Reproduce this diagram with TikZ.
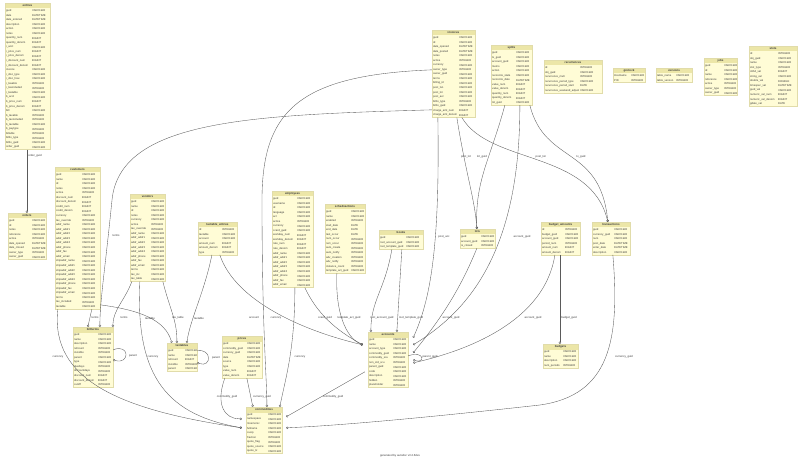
\documentclass[tikz,border=0pt]{standalone}
\usepackage{fontspec}
\setmainfont{Liberation Sans}
\usetikzlibrary{arrows.meta,calc,fit}
\catcode`\_=12
\definecolor{hdrfill}{RGB}{236,230,168}
\definecolor{rowfill}{RGB}{255,252,214}
\definecolor{tblline}{RGB}{225,220,170}
\definecolor{txt}{RGB}{60,60,60}
\definecolor{edgec}{RGB}{90,90,90}
\tikzset{
  hdrtext/.style={font=\fontsize{2.9}{3}\selectfont\bfseries,text=txt,inner sep=0},
  celltext/.style={font=\fontsize{2.7}{3}\selectfont,text=txt,inner sep=0,anchor=west},
  lab/.style={font=\fontsize{2.8}{3}\selectfont,text=txt,inner sep=0.3pt},
  conn/.style={draw=edgec,line width=0.35pt,-{Circle[open,length=2.3pt,width=2.3pt]}},
}
\newcounter{lb}
\newcommand{\lbl}[3]{\stepcounter{lb}\node[lab] (lab\thelb) at (#1,#2) {#3};}
\newcommand{\mktable}[7]{%
 \fill[hdrfill] (#2,#3) rectangle (#2+#4,#3+5.5);
 \node[hdrtext] (#1title) at (#2+#4/2,#3+2.75) {#6};
 \foreach \c/\t [count=\i] in {#7} {
   \pgfmathsetmacro\yy{#3+5.5+(\i-1)*4.55}
   \fill[rowfill] (#2,\yy) rectangle (#2+#4,\yy+4.55);
   \node[celltext] (#1c\i) at (#2+1,\yy+2.3) {\c};
   \node[celltext] (#1t\i) at (#2+#5,\yy+2.3) {\t};
   \xdef\nrows{\i}
 }
 \pgfmathsetmacro\yb{#3+5.5+\nrows*4.55}
 \coordinate (#1nw) at (#2,#3); \coordinate (#1se) at (#2+#4,\yb);
 \node[fit=(#1nw)(#1se),inner sep=0,draw=tblline,line width=0.3pt] (#1) {};
}
\begin{document}
\begin{tikzpicture}[x=1pt,y=-1pt]
\fill[white] (0,0) rectangle (800,462);
\useasboundingbox (0,0) rectangle (800,462);

\mktable{entries}{5}{3}{45}{27}{entries}{guid/VARCHAR,date/DATETIME,date_entered/DATETIME,description/VARCHAR,action/VARCHAR,notes/VARCHAR,quantity_num/BIGINT,quantity_denom/BIGINT,i_acct/VARCHAR,i_price_num/BIGINT,i_price_denom/BIGINT,i_discount_num/BIGINT,i_discount_denom/BIGINT,invoice/VARCHAR,i_disc_type/VARCHAR,i_disc_how/VARCHAR,i_taxable/INTEGER,i_taxincluded/INTEGER,i_taxtable/VARCHAR,b_acct/VARCHAR,b_price_num/BIGINT,b_price_denom/BIGINT,bill/VARCHAR,b_taxable/INTEGER,b_taxincluded/INTEGER,b_taxtable/VARCHAR,b_paytype/INTEGER,billable/INTEGER,billto_type/INTEGER,billto_guid/VARCHAR,order_guid/VARCHAR}
\mktable{orders}{8}{213}{38}{24}{orders}{guid/VARCHAR,id/VARCHAR,notes/VARCHAR,reference/VARCHAR,active/INTEGER,date_opened/DATETIME,date_closed/DATETIME,owner_type/INTEGER,owner_guid/VARCHAR}
\mktable{customers}{55}{167}{45}{27}{customers}{guid/VARCHAR,name/VARCHAR,id/VARCHAR,notes/VARCHAR,active/INTEGER,discount_num/BIGINT,discount_denom/BIGINT,credit_num/BIGINT,credit_denom/BIGINT,currency/VARCHAR,tax_override/INTEGER,addr_name/VARCHAR,addr_addr1/VARCHAR,addr_addr2/VARCHAR,addr_addr3/VARCHAR,addr_addr4/VARCHAR,addr_phone/VARCHAR,addr_fax/VARCHAR,addr_email/VARCHAR,shipaddr_name/VARCHAR,shipaddr_addr1/VARCHAR,shipaddr_addr2/VARCHAR,shipaddr_addr3/VARCHAR,shipaddr_addr4/VARCHAR,shipaddr_phone/VARCHAR,shipaddr_fax/VARCHAR,shipaddr_email/VARCHAR,terms/VARCHAR,tax_included/INTEGER,taxtable/VARCHAR}
\mktable{vendors}{130}{194}{35}{21}{vendors}{guid/VARCHAR,name/VARCHAR,id/VARCHAR,notes/VARCHAR,currency/VARCHAR,active/INTEGER,tax_override/INTEGER,addr_name/VARCHAR,addr_addr1/VARCHAR,addr_addr2/VARCHAR,addr_addr3/VARCHAR,addr_addr4/VARCHAR,addr_phone/VARCHAR,addr_fax/VARCHAR,addr_email/VARCHAR,terms/VARCHAR,tax_inc/VARCHAR,tax_table/VARCHAR}
\mktable{taxtable_entries}{198}{222}{39}{24}{taxtable_entries}{id/INTEGER,taxtable/VARCHAR,account/VARCHAR,amount_num/BIGINT,amount_denom/BIGINT,type/INTEGER}
\mktable{employees}{272}{191}{41}{25}{employees}{guid/VARCHAR,username/VARCHAR,id/VARCHAR,language/VARCHAR,acl/VARCHAR,active/INTEGER,currency/VARCHAR,ccard_guid/VARCHAR,workday_num/BIGINT,workday_denom/BIGINT,rate_num/BIGINT,rate_denom/BIGINT,addr_name/VARCHAR,addr_addr1/VARCHAR,addr_addr2/VARCHAR,addr_addr3/VARCHAR,addr_addr4/VARCHAR,addr_phone/VARCHAR,addr_fax/VARCHAR,addr_email/VARCHAR}
\mktable{schedxactions}{325}{204}{40}{26}{schedxactions}{guid/VARCHAR,name/VARCHAR,enabled/INTEGER,start_date/DATE,end_date/DATE,last_occur/DATE,num_occur/INTEGER,rem_occur/INTEGER,auto_create/INTEGER,auto_notify/INTEGER,adv_creation/INTEGER,adv_notify/INTEGER,instance_count/INTEGER,template_act_guid/VARCHAR}
\mktable{books}{379}{230}{44}{27}{books}{guid/VARCHAR,root_account_guid/VARCHAR,root_template_guid/VARCHAR}
\mktable{lots}{460}{229}{35}{21}{lots}{guid/VARCHAR,account_guid/VARCHAR,is_closed/INTEGER}
\mktable{budget_amounts}{541}{222}{39}{24}{budget_amounts}{id/INTEGER,budget_guid/VARCHAR,account_guid/VARCHAR,period_num/INTEGER,amount_num/BIGINT,amount_denom/BIGINT}
\mktable{transactions}{592}{222}{38}{22}{transactions}{guid/VARCHAR,currency_guid/VARCHAR,num/VARCHAR,post_date/DATETIME,enter_date/DATETIME,description/VARCHAR}
\mktable{invoices}{432}{30}{43}{27}{invoices}{guid/VARCHAR,id/VARCHAR,date_opened/DATETIME,date_posted/DATETIME,notes/VARCHAR,active/INTEGER,currency/VARCHAR,owner_type/INTEGER,owner_guid/VARCHAR,terms/VARCHAR,billing_id/VARCHAR,post_txn/VARCHAR,post_lot/VARCHAR,post_acc/VARCHAR,billto_type/INTEGER,billto_guid/VARCHAR,charge_amt_num/BIGINT,charge_amt_denom/BIGINT}
\mktable{splits}{491}{45}{41}{25}{splits}{guid/VARCHAR,tx_guid/VARCHAR,account_guid/VARCHAR,memo/VARCHAR,action/VARCHAR,reconcile_state/VARCHAR,reconcile_date/DATETIME,value_num/BIGINT,value_denom/BIGINT,quantity_num/BIGINT,quantity_denom/BIGINT,lot_guid/VARCHAR}
\mktable{recurrences}{544}{60}{58}{36}{recurrences}{id/INTEGER,obj_guid/VARCHAR,recurrence_mult/INTEGER,recurrence_period_type/VARCHAR,recurrence_period_start/DATE,recurrence_weekend_adjust/VARCHAR}
\mktable{gnclock}{613}{68}{32}{18}{gnclock}{Hostname/VARCHAR,PID/INTEGER}
\mktable{versions}{656}{68}{36}{20}{versions}{table_name/VARCHAR,table_version/INTEGER}
\mktable{jobs}{704}{58}{33}{20}{jobs}{guid/VARCHAR,id/VARCHAR,name/VARCHAR,reference/VARCHAR,active/INTEGER,owner_type/INTEGER,owner_guid/VARCHAR}
\mktable{slots}{749}{46}{48}{29}{slots}{id/INTEGER,obj_guid/VARCHAR,name/VARCHAR,slot_type/INTEGER,int64_val/BIGINT,string_val/VARCHAR,double_val/DOUBLE,timespec_val/DATETIME,guid_val/VARCHAR,numeric_val_num/BIGINT,numeric_val_denom/BIGINT,gdate_val/DATE}
\mktable{billterms}{73}{327}{40}{25}{billterms}{guid/VARCHAR,name/VARCHAR,description/VARCHAR,refcount/INTEGER,invisible/INTEGER,parent/VARCHAR,type/VARCHAR,duedays/INTEGER,discountdays/INTEGER,discount_num/BIGINT,discount_denom/BIGINT,cutoff/INTEGER}
\mktable{taxtables}{167}{343}{30}{18}{taxtables}{guid/VARCHAR,name/VARCHAR,refcount/BIGINT,invisible/INTEGER,parent/VARCHAR}
\mktable{prices}{222}{336}{40}{25}{prices}{guid/VARCHAR,commodity_guid/VARCHAR,currency_guid/VARCHAR,date/DATETIME,source/VARCHAR,type/VARCHAR,value_num/BIGINT,value_denom/BIGINT}
\mktable{accounts}{368}{332}{40}{25}{accounts}{guid/VARCHAR,name/VARCHAR,account_type/VARCHAR,commodity_guid/VARCHAR,commodity_scu/INTEGER,non_std_scu/INTEGER,parent_guid/VARCHAR,code/VARCHAR,description/VARCHAR,hidden/INTEGER,placeholder/INTEGER}
\mktable{budgets}{543}{344}{35}{20}{budgets}{guid/VARCHAR,name/VARCHAR,description/VARCHAR,num_periods/INTEGER}
\mktable{commodities}{246}{407}{36}{22}{commodities}{guid/VARCHAR,namespace/VARCHAR,mnemonic/VARCHAR,fullname/VARCHAR,cusip/VARCHAR,fraction/INTEGER,quote_flag/INTEGER,quote_source/VARCHAR,quote_tz/VARCHAR}

% connectors
\draw[conn] ($(entries.south west)+(22,0)$) -- ($(orders.north west)+(19,0)$);
\draw[conn] ($(customers.south west)+(37,0)$) -- ($(billterms.north west)+(15,0)$);
\draw[conn] ($(invoices.north west)+(0,80)$) .. controls (250,115) and (120,120) .. (112,200) .. controls (105,270) and (100,300) .. ($(billterms.north west)+(27,0)$);
\draw[conn] ($(vendors.south west)+(2,0)$) .. controls (125,300) and (113,310) .. ($(billterms.north west)+(40,0)$);
\draw[conn] ($(billterms.north east)+(0,23)$) .. controls (130,343) and (130,365) .. ($(billterms.north east)+(0,33)$);
\draw[conn] ($(customers.north east)+(0,138)$) .. controls (140,310) and (165,320) .. ($(taxtables.north west)+(5,0)$);
\draw[conn] ($(vendors.south west)+(33,0)$) .. controls (170,310) and (177,320) .. ($(taxtables.north west)+(10,0)$);
\draw[conn] ($(taxtable_entries.south west)+(14,0)$) .. controls (205,290) and (190,320) .. ($(taxtables.north west)+(20,0)$);
\draw[conn] ($(taxtables.north east)+(0,8)$) .. controls (212,348) and (212,368) .. ($(taxtables.north east)+(0,20)$);
\draw[conn] ($(taxtable_entries.south west)+(22,0)$) .. controls (235,300) and (300,330) .. ($(accounts.north west)+(-5,13)$);
\draw[conn] ($(prices.south west)+(3,0)$) .. controls (215,405) and (225,419) .. ($(commodities.north west)+(-4,12)$);
\draw[conn] ($(prices.south west)+(25,0)$) -- ($(commodities.north west)+(7,0)$);
\draw[conn] ($(customers.south west)+(3,0)$) .. controls (50,380) and (120,410) .. ($(commodities.north west)+(-4,21)$);
\draw[conn] ($(vendors.south west)+(10,0)$) .. controls (135,380) and (170,415) .. ($(commodities.north west)+(-4,21)$);
\draw[conn] ($(invoices.north west)+(0,40)$) .. controls (300,75) and (262,110) .. (262,200) .. controls (262,330) and (267,380) .. ($(commodities.north west)+(21,0)$);
\draw[conn] ($(employees.south west)+(23,0)$) .. controls (295,350) and (285,380) .. ($(commodities.north west)+(34,0)$);
\draw[conn] ($(employees.south west)+(33,0)$) .. controls (320,320) and (345,335) .. ($(accounts.north west)+(-5,13)$);
\draw[conn] ($(schedxactions.south west)+(12,0)$) .. controls (335,320) and (350,340) .. ($(accounts.north west)+(-5,13)$);
\draw[conn] ($(books.south west)+(13,0)$) .. controls (385,290) and (371,300) .. ($(accounts.north west)+(3,0)$);
\draw[conn] ($(books.south west)+(23,0)$) -- ($(accounts.north west)+(29,0)$);
\draw[conn] ($(accounts.north west)+(-3,40)$) -- ($(commodities.north east)+(4,10)$);
\draw[conn] ($(transactions.south west)+(21,0)$) .. controls (620,340) and (610,395) .. (540,405) .. controls (450,415) and (350,425) .. ($(commodities.north east)+(4,21)$);
\draw[conn] ($(invoices.south west)+(6,0)$) .. controls (440,250) and (430,300) .. ($(accounts.north east)+(5,6)$);
\draw[conn] ($(splits.south west)+(29,0)$) .. controls (520,250) and (470,310) .. ($(accounts.north east)+(5,13)$);
\draw[conn] ($(lots.south west)+(17,0)$) .. controls (460,290) and (440,320) .. ($(accounts.north east)+(5,21)$);
\draw[conn] ($(budget_amounts.south west)+(14,0)$) .. controls (545,320) and (470,350) .. ($(accounts.north east)+(5,31)$);
\draw[conn] ($(accounts.north east)+(0,24)$) .. controls (425,350) and (425,364) .. ($(accounts.north east)+(5,28)$);
\draw[conn] ($(invoices.south west)+(25,0)$) .. controls (465,170) and (475,200) .. ($(lots.north west)+(17,0)$);
\draw[conn] ($(splits.south west)+(14,0)$) .. controls (490,160) and (475,180) .. ($(lots.north west)+(17,0)$);
\draw[conn] ($(invoices.south west)+(30,0)$) .. controls (490,165) and (590,150) .. ($(transactions.north west)+(16,0)$);
\draw[conn] ($(splits.south west)+(39,0)$) .. controls (545,165) and (600,145) .. ($(transactions.north west)+(16,0)$);
\draw[conn] ($(budget_amounts.south west)+(19,0)$) -- ($(budgets.north west)+(17,0)$);

% labels
\lbl{35}{156}{order_guid}
\lbl{95}{318}{terms}
\lbl{116}{236}{terms}
\lbl{124}{318}{terms}
\lbl{133}{356}{parent}
\lbl{150}{318}{taxtable}
\lbl{178}{318}{tax_table}
\lbl{199}{318}{taxtable}
\lbl{216}{358}{parent}
\lbl{254}{318}{account}
\lbl{227}{397}{commodity_guid}
\lbl{262}{397}{currency_guid}
\lbl{58}{357}{currency}
\lbl{153}{357}{currency}
\lbl{276}{318}{currency}
\lbl{300}{357}{currency}
\lbl{325}{318}{ccard_guid}
\lbl{349}{318}{template_act_guid}
\lbl{382}{318}{root_account_guid}
\lbl{411}{318}{root_template_guid}
\lbl{333}{397}{commodity_guid}
\lbl{624}{357}{currency_guid}
\lbl{444}{237}{post_acc}
\lbl{522}{237}{account_guid}
\lbl{451}{318}{account_guid}
\lbl{533}{318}{account_guid}
\lbl{430}{357}{parent_guid}
\lbl{466}{157}{post_lot}
\lbl{482}{157}{lot_guid}
\lbl{541}{157}{post_txn}
\lbl{581}{157}{tx_guid}
\lbl{569}{318}{budget_guid}
\lbl{400}{456}{generated by autodoc v0.2.6dev}
\end{tikzpicture}
\end{document}
